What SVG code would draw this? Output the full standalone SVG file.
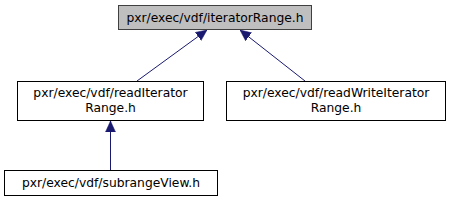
<svg xmlns="http://www.w3.org/2000/svg" width="451" height="201" viewBox="0 0 451 201">
<defs>
<style>
.box{fill:#ffffff;stroke:#000000;stroke-width:1}
.cur{fill:#bfbfbf;stroke:#404040;stroke-width:1}
.lbl{font-family:"DejaVu Sans",sans-serif;font-size:12.3px;fill:#000000;text-anchor:middle}
.edge{stroke:#191970;stroke-width:1;fill:none}
</style>
<marker id="ah" viewBox="0 0 11 11" refX="11" refY="5.5" markerWidth="11" markerHeight="11" markerUnits="userSpaceOnUse" orient="auto">
<path d="M0,0.5 L11,5.5 L0,10.5 Z" fill="#191970" stroke="#191970" stroke-width="0.5"/>
</marker>
</defs>
<rect width="451" height="201" fill="#ffffff"/>
<g id="connectors">
<line class="edge" x1="137" y1="81" x2="207" y2="30" marker-end="url(#ah)"/>
<line class="edge" x1="305" y1="81" x2="240" y2="30" marker-end="url(#ah)"/>
<line class="edge" x1="110.5" y1="170" x2="110.5" y2="121" marker-end="url(#ah)"/>
</g>
<g id="node_iteratorRange">
<rect class="cur" x="118.5" y="5.5" width="193" height="24"/>
<text class="lbl" x="215" y="22">pxr/exec/vdf/iteratorRange.h</text>
</g>
<g id="node_readIteratorRange">
<rect class="box" x="17.5" y="81.5" width="186" height="39"/>
<text class="lbl" x="110.5" y="97">pxr/exec/vdf/readIterator</text>
<text class="lbl" x="110.5" y="112">Range.h</text>
</g>
<g id="node_readWriteIteratorRange">
<rect class="box" x="226.5" y="81.5" width="219" height="39"/>
<text class="lbl" x="336" y="97">pxr/exec/vdf/readWriteIterator</text>
<text class="lbl" x="336" y="112">Range.h</text>
</g>
<g id="node_subrangeView">
<rect class="box" x="4.5" y="170.5" width="213" height="25"/>
<text class="lbl" x="111" y="187">pxr/exec/vdf/subrangeView.h</text>
</g>
</svg>
